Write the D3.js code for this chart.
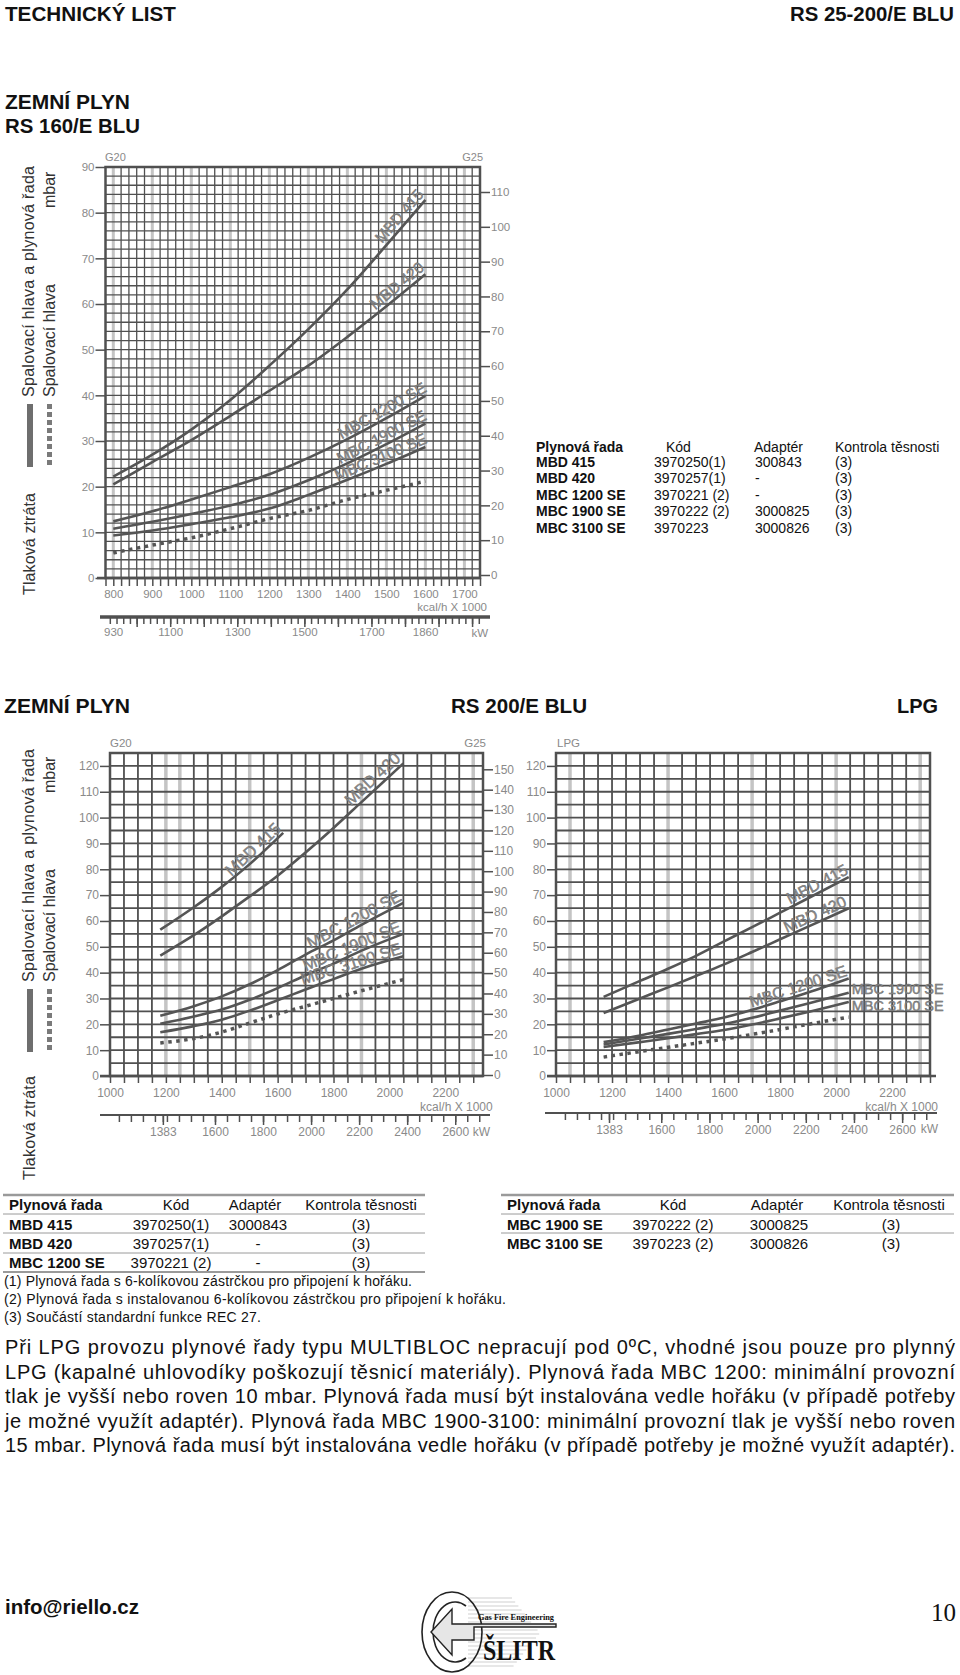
<!DOCTYPE html>
<html><head><meta charset="utf-8">
<script src="https://cdn.jsdelivr.net/npm/d3@7"></script>
<style>
body{margin:0;background:#fff;}
svg{display:block;}
</style></head><body>
<script>
// ================= DATA =================
// Top chart: RS 160/E BLU, natural gas (flow in kcal/h x 1000, pressure in mbar)
const topFlow    = [800, 900, 1000, 1100, 1200, 1300, 1400, 1500, 1600];
const topMBD415  = [22.2, 27.0, 32.5, 39.0, 46.5, 54.5, 63.2, 72.9, 82.8];
const topMBD420  = [20.5, 25.4, 30.2, 35.5, 41.0, 46.5, 52.8, 59.5, 66.5];
const topMBC1200 = [12.4, 14.6, 17.2, 19.9, 22.7, 26.3, 30.4, 35.0, 39.9];
const topMBC1900 = [10.8, 12.3, 14.0, 15.9, 18.2, 21.4, 25.1, 29.3, 33.8];
const topMBC3100 = [9.3, 10.4, 11.8, 13.3, 15.2, 18.2, 21.5, 25.0, 28.7];
const topHead    = [5.5, 7.2, 8.8, 10.8, 13.0, 14.8, 17.2, 19.2, 21.2];
const topYTicks  = [0, 10, 20, 30, 40, 50, 60, 70, 80, 90];
const topG25Ticks = [0, 10, 20, 30, 40, 50, 60, 70, 80, 90, 100, 110];
const topKcalLabels = [800, 900, 1000, 1100, 1200, 1300, 1400, 1500, 1600, 1700];
const topKwLabels = [930, 1100, 1300, 1500, 1700, 1860];
const topGreyLines = [800, 900, 1000, 1100, 1200, 1300, 1400, 1500, 1600, 1700];

// Middle left: RS 200/E BLU, natural gas
const ngFlow415  = [1180, 1300, 1400, 1500, 1620];
const ngMBD415   = [56.6, 65.3, 73.2, 82.0, 94.1];
const ngFlow     = [1180, 1300, 1400, 1500, 1600, 1700, 1800, 1900, 2050];
const ngMBD420   = [46.6, 54.5, 61.8, 69.5, 77.5, 86.5, 96.0, 106.0, 121.0];
const ngMBC1200  = [23.3, 27.0, 30.8, 35.5, 41.0, 47.0, 52.5, 58.5, 67.0];
const ngMBC1900  = [20.2, 23.0, 25.7, 29.5, 34.0, 39.0, 43.5, 48.5, 55.0];
const ngMBC3100  = [16.9, 19.3, 21.8, 25.3, 29.3, 33.5, 37.5, 41.5, 46.3];
const ngHead     = [12.8, 14.5, 17.0, 20.5, 24.0, 27.0, 30.0, 33.0, 37.3];
const ngGreyLines = [1200, 1250, 1500, 1900, 2300];

// Middle right: RS 200/E BLU, LPG
const lpgFlow    = [1170, 1300, 1400, 1500, 1600, 1700, 1800, 1900, 2045];
const lpgMBD415  = [30.6, 36.8, 41.5, 46.5, 52.1, 57.6, 63.2, 68.8, 77.0];
const lpgMBD420  = [24.4, 30.0, 34.3, 38.7, 43.2, 48.0, 52.9, 57.8, 64.9];
const lpgMBC1200 = [13.1, 15.7, 18.0, 20.3, 22.6, 25.6, 28.9, 32.3, 37.7];
const lpgMBC1900 = [12.2, 14.5, 16.3, 18.2, 20.1, 22.5, 25.3, 28.1, 32.2];
const lpgMBC3100 = [11.2, 13.1, 14.6, 16.2, 17.8, 19.9, 22.3, 24.8, 28.7];
const lpgHead    = [7.3, 9.5, 11.1, 12.7, 14.3, 16.1, 18.0, 20.0, 22.8];
const lpgGreyLines = [1050, 1400, 1700, 2000, 2300];

const midYTicks = [0, 10, 20, 30, 40, 50, 60, 70, 80, 90, 100, 110, 120];
const midG25Ticks = [0, 10, 20, 30, 40, 50, 60, 70, 80, 90, 100, 110, 120, 130, 140, 150];
const midKcalLabels = [1000, 1200, 1400, 1600, 1800, 2000, 2200];
const midKwLabels = [1383, 1600, 1800, 2000, 2200, 2400, 2600];

// Tables
const t1Valves   = ["MBD 415", "MBD 420", "MBC 1200 SE", "MBC 1900 SE", "MBC 3100 SE"];
const t1Codes    = ["3970250(1)", "3970257(1)", "3970221 (2)", "3970222 (2)", "3970223"];
const t1Adapters = ["300843", "-", "-", "3000825", "3000826"];
const t1Checks   = ["(3)", "(3)", "(3)", "(3)", "(3)"];
const t2Valves   = ["MBD 415", "MBD 420", "MBC 1200 SE"];
const t2Codes    = ["3970250(1)", "3970257(1)", "3970221 (2)"];
const t2Adapters = ["3000843", "-", "-"];
const t3Valves   = ["MBC 1900 SE", "MBC 3100 SE"];
const t3Codes    = ["3970222 (2)", "3970223 (2)"];
const t3Adapters = ["3000825", "3000826"];
const tHeaders   = ["Plynová řada", "Kód", "Adaptér", "Kontrola těsnosti"];
const footnotes  = [
  "(1) Plynová řada s 6-kolíkovou zástrčkou pro připojení k hořáku.",
  "(2) Plynová řada s instalovanou 6-kolíkovou zástrčkou pro připojení k hořáku.",
  "(3) Součástí standardní funkce REC 27."
];
const paragraph = [
  "Při LPG provozu plynové řady typu MULTIBLOC nepracují pod 0ºC, vhodné jsou pouze pro plynný",
  "LPG (kapalné uhlovodíky poškozují těsnicí materiály). Plynová řada MBC 1200: minimální provozní",
  "tlak je vyšší nebo roven 10 mbar. Plynová řada musí být instalována vedle hořáku (v případě potřeby",
  "je možné využít adaptér). Plynová řada MBC 1900-3100: minimální provozní tlak je vyšší nebo roven",
  "15 mbar. Plynová řada musí být instalována vedle hořáku (v případě potřeby je možné využít adaptér)."
];

// ================= DRAWING =================
const W = 960, H = 1675, KW = 1.163;
const C = "#505050", LBL = "#8a8a8a";
const F = '"Liberation Sans", Arial, Helvetica, sans-serif';
const svg = d3.select("body").append("svg").attr("width", W).attr("height", H);
svg.append("rect").attr("width", W).attr("height", H).attr("fill", "#fff");

function T(p, s, x, y, o = {}) {
  const t = p.append("text").attr("x", x).attr("y", y).text(s)
    .attr("font-family", o.family || F).attr("font-size", o.size || 14)
    .attr("font-weight", o.weight || "normal").attr("fill", o.fill || "#111")
    .attr("text-anchor", o.anchor || "start");
  if (o.len) t.attr("textLength", o.len).attr("lengthAdjust", o.adjust || "spacingAndGlyphs");
  return t;
}
function TR(p, s, x, y, o = {}) {
  const g = p.append("g").attr("transform", `translate(${x},${y}) rotate(-90)`);
  return T(g, s, 0, 0, o);
}
function st(a, fs) {
  a.select(".domain").remove();
  a.attr("font-family", null).attr("font-size", null);
  a.selectAll("line").attr("stroke", C).attr("stroke-width", 1.5);
  a.selectAll("text").attr("fill", LBL).attr("font-size", fs).attr("font-family", F);
}

function drawChart(o) {
  const g = svg.append("g");
  const x = o.x, y = o.y;
  const [xa, xb] = x.domain(), [ya, yb] = y.domain();
  const top = y(yb), bot = y(ya), left = x(xa), right = x(xb);
  g.selectAll(null).data(o.greyX).join("line")
    .attr("x1", d => x(d)).attr("x2", d => x(d)).attr("y1", top).attr("y2", bot)
    .attr("stroke", "#c4c4c4").attr("stroke-width", o.greyW);
  g.selectAll(null).data(o.gridX.filter(v => !o.greyX.includes(v))).join("line")
    .attr("x1", d => x(d)).attr("x2", d => x(d)).attr("y1", top).attr("y2", bot)
    .attr("stroke", C).attr("stroke-width", o.gridW);
  g.selectAll(null).data(o.gridY).join("line")
    .attr("x1", left).attr("x2", right).attr("y1", d => y(d)).attr("y2", d => y(d))
    .attr("stroke", C).attr("stroke-width", o.gridW);
  g.append("rect").attr("x", left).attr("y", top).attr("width", right - left).attr("height", bot - top)
    .attr("fill", "none").attr("stroke", C).attr("stroke-width", o.frameW);
  g.append("line").attr("x1", o.axisX0).attr("x2", o.axisX1).attr("y1", bot).attr("y2", bot)
    .attr("stroke", C).attr("stroke-width", o.frameW);
  const la = g.append("g").attr("transform", `translate(${left},0)`)
    .call(d3.axisLeft(y).tickValues(o.yTicks).tickSize(o.yTick).tickPadding(1));
  st(la, o.fs);
  const ba = g.append("g").attr("transform", `translate(0,${bot})`)
    .call(d3.axisBottom(x).tickValues(o.xTicks).tickSize(o.xTick).tickPadding(o.xPad)
      .tickFormat(d => o.xLabels.includes(d) ? d : ""));
  st(ba, o.fs);
  if (o.yR) {
    const ra = g.append("g").attr("transform", `translate(${right},0)`)
      .call(d3.axisRight(o.yR).tickValues(o.yRTicks).tickSize(10).tickPadding(1));
    st(ra, o.fs);
  }
  const kw = d3.scaleLinear().domain([xa * KW, xb * KW]).range([left, right]);
  g.append("line").attr("x1", o.kwX0).attr("x2", o.kwX1).attr("y1", o.kwY).attr("y2", o.kwY)
    .attr("stroke", C).attr("stroke-width", o.kwW);
  const k1 = g.append("g").attr("transform", `translate(0,${o.kwY})`)
    .call(d3.axisBottom(kw).tickValues(o.kwTicks).tickSize(7).tickFormat(""));
  st(k1, o.fs);
  const k2 = g.append("g").attr("transform", `translate(0,${o.kwY})`)
    .call(d3.axisBottom(kw).tickValues(o.kwMajor).tickSize(10).tickFormat(""));
  st(k2, o.fs);
  const k3 = g.append("g").attr("transform", `translate(0,${o.kwY})`)
    .call(d3.axisBottom(kw).tickValues(o.kwLabels).tickSize(0).tickPadding(o.kwPad).tickFormat(d3.format("d")));
  st(k3, o.fs);
  k3.selectAll("line").remove();
  T(g, "kW", o.kwUnitX, o.kwUnitY, { size: o.fs, fill: LBL, anchor: "end" });
  T(g, "kcal/h X 1000", o.kcalX, o.kcalY, { size: o.fs, fill: LBL, anchor: o.kcalAnchor });
  o.topLabels.forEach(t => T(g, t.s, t.x, top - 6, { size: o.fs - 0.5, fill: LBL, anchor: t.a }));

  const line = d3.line().x(d => x(d[0])).y(d => y(d[1])).curve(d3.curveMonotoneX);
  o.series.forEach(s => {
    const pts = s.flow.map((f, i) => [f, s.vals[i]]);
    g.append("path").attr("d", line(pts)).attr("fill", "none").attr("stroke", "#555")
      .attr("stroke-width", s.dash ? 3.5 : 2.6).attr("stroke-dasharray", s.dash ? "3.5,4.5" : null);
    if (!s.label) return;
    const f = d3.scaleLinear().domain(s.flow).range(s.vals);
    const at = s.flow[s.flow.length - 1];
    const p2 = [x(at), y(f(at))];
    if (s.horiz) {
      T(g, s.label, p2[0] + 3, p2[1] + s.dy, { size: o.hSize, fill: "#8c8c8c" })
        .attr("stroke", "#666").attr("stroke-width", 0.4);
      return;
    }
    const back = at - s.span;
    const p1 = [x(back), y(f(back))];
    const th = Math.atan2(p2[1] - p1[1], p2[0] - p1[0]);
    const off = s.off, sh = s.shift || 0;
    const px = p2[0] + Math.sin(th) * off + Math.cos(th) * sh;
    const py = p2[1] - Math.cos(th) * off + Math.sin(th) * sh;
    g.append("text").attr("transform", `translate(${px},${py}) rotate(${th * 180 / Math.PI})`)
      .attr("text-anchor", "end").attr("font-size", o.lblSize).attr("font-family", F)
      .attr("fill", "#8c8c8c").attr("stroke", "#666").attr("stroke-width", 0.4).text(s.label);
  });
  return g;
}

function legend(y0, yTop, yTlak, lenMain, lenTlak) {
  const s = { size: 16, fill: "#333" };
  TR(svg, "Spalovací hlava a plynová řada", 34, y0, { ...s, len: lenMain, adjust: "spacing" });
  TR(svg, "mbar", 55, yTop, { ...s });
  TR(svg, "Spalovací hlava", 55, y0, { ...s });
  TR(svg, "Tlaková ztráta", 35, yTlak, { ...s, len: lenTlak, adjust: "spacing" });
  svg.append("rect").attr("x", 27).attr("y", y0 + 7).attr("width", 6).attr("height", 63).attr("fill", "#6e6e6e");
  svg.append("line").attr("x1", 49.5).attr("x2", 49.5).attr("y1", y0 + 7).attr("y2", y0 + 70)
    .attr("stroke", "#7a7a7a").attr("stroke-width", 5).attr("stroke-dasharray", "5,3");
}

// ---------- header ----------
T(svg, "TECHNICKÝ LIST", 5, 21, { size: 21, weight: "bold", len: 171 });
T(svg, "RS 25-200/E BLU", 790, 21, { size: 21, weight: "bold", len: 164 });
T(svg, "ZEMNÍ PLYN", 5, 108.5, { size: 21, weight: "bold", len: 125 });
T(svg, "RS 160/E BLU", 5, 133, { size: 21, weight: "bold", len: 135 });

// ---------- top chart ----------
const topX = d3.scaleLinear().domain([780, 1740]).range([105.5, 480]);
const topY = d3.scaleLinear().domain([0, 90]).range([578, 167]);
drawChart({
  x: topX, y: topY,
  yR: d3.scaleLinear().domain([0, 110]).range([575, 192]), yRTicks: topG25Ticks,
  gridX: d3.range(800, 1740, 20), greyX: topGreyLines, gridY: d3.range(2, 90, 2),
  gridW: 1.3, greyW: 3, frameW: 2.5, axisX0: 97, axisX1: 480,
  yTicks: topYTicks, yTick: 10, xTicks: d3.range(780, 1741, 20), xTick: 8, xPad: 4, xLabels: topKcalLabels,
  fs: 11.5,
  kwY: 617, kwX0: 100, kwX1: 490, kwW: 3.5, kwTicks: d3.range(920, 2021, 20), kwMajor: d3.range(1000, 2001, 100),
  kwLabels: topKwLabels, kwPad: 11, kwUnitX: 488, kwUnitY: 637,
  kcalX: 487, kcalY: 611, kcalAnchor: "end",
  topLabels: [{ s: "G20", x: 105, a: "start" }, { s: "G25", x: 483, a: "end" }],
  lblSize: 15.5,
  series: [
    { flow: topFlow, vals: topMBD415, label: "MBD 415", span: 80, off: 4, shift: 3 },
    { flow: topFlow, vals: topMBD420, label: "MBD 420", span: 80, off: 4, shift: 3 },
    { flow: topFlow, vals: topMBC1200, label: "MBC 1200 SE", span: 150, off: 3, shift: 4 },
    { flow: topFlow, vals: topMBC1900, label: "MBC 1900 SE", span: 150, off: 3, shift: 4 },
    { flow: topFlow, vals: topMBC3100, label: "MBC 3100 SE", span: 150, off: 3, shift: 4 },
    { flow: topFlow, vals: topHead, dash: true }
  ]
});
legend(397, 208, 595, 231, 102);

// top-right table
(function () {
  const g = svg.append("g");
  const cols = [536, 654, 755, 835];
  T(g, tHeaders[0], cols[0], 451.5, { size: 14, weight: "bold" });
  T(g, tHeaders[1], 666, 451.5, { size: 14 });
  T(g, tHeaders[2], 754, 451.5, { size: 14 });
  T(g, tHeaders[3], cols[3], 451.5, { size: 14 });
  t1Valves.forEach((v, i) => {
    const yy = 466.5 + i * 16.6;
    T(g, v, cols[0], yy, { size: 14, weight: "bold" });
    T(g, t1Codes[i], cols[1], yy, { size: 14 });
    T(g, t1Adapters[i], cols[2], yy, { size: 14 });
    T(g, t1Checks[i], cols[3], yy, { size: 14 });
  });
})();

// ---------- middle section ----------
T(svg, "ZEMNÍ PLYN", 4, 713, { size: 21, weight: "bold", len: 126 });
T(svg, "RS 200/E BLU", 451, 713, { size: 21, weight: "bold", len: 136 });
T(svg, "LPG", 897, 713, { size: 21, weight: "bold", len: 41 });

const midY = d3.scaleLinear().domain([0, 125]).range([1076, 753]);
const ngX = d3.scaleLinear().domain([1000, 2335]).range([110, 483]);
drawChart({
  x: ngX, y: midY,
  yR: d3.scaleLinear().domain([0, 150]).range([1075, 769.3]), yRTicks: midG25Ticks,
  gridX: d3.range(1050, 2335, 50), greyX: ngGreyLines, gridY: d3.range(5, 125, 5),
  gridW: 1.8, greyW: 3.5, frameW: 2.5, axisX0: 100, axisX1: 483,
  yTicks: midYTicks, yTick: 10, xTicks: d3.range(1000, 2335, 50), xTick: 7, xPad: 5, xLabels: midKcalLabels,
  fs: 12,
  kwY: 1115, kwX0: 100, kwX1: 490, kwW: 2, kwTicks: d3.range(1200, 2701, 50).concat([1383]), kwMajor: [1383, 1600, 1800, 2000, 2200, 2400, 2600],
  kwLabels: midKwLabels, kwPad: 12, kwUnitX: 490, kwUnitY: 1135.5,
  kcalX: 420, kcalY: 1111, kcalAnchor: "start",
  topLabels: [{ s: "G20", x: 110, a: "start" }, { s: "G25", x: 486, a: "end" }],
  lblSize: 16.5,
  series: [
    { flow: ngFlow415, vals: ngMBD415, label: "MBD 415", span: 100, off: 3, shift: 1 },
    { flow: ngFlow, vals: ngMBD420, label: "MBD 420", span: 120, off: 4, shift: 1 },
    { flow: ngFlow, vals: ngMBC1200, label: "MBC 1200 SE", span: 200, off: 3, shift: 1 },
    { flow: ngFlow, vals: ngMBC1900, label: "MBC 1900 SE", span: 200, off: 3, shift: 0 },
    { flow: ngFlow, vals: ngMBC3100, label: "MBC 3100 SE", span: 200, off: 3, shift: 0 },
    { flow: ngFlow, vals: ngHead, dash: true }
  ]
});

const lpgX = d3.scaleLinear().domain([1000, 2335]).range([556, 930]);
drawChart({
  x: lpgX, y: midY,
  gridX: d3.range(1050, 2335, 50), greyX: lpgGreyLines, gridY: d3.range(5, 125, 5),
  gridW: 1.8, greyW: 3.5, frameW: 2.5, axisX0: 547, axisX1: 936,
  yTicks: midYTicks, yTick: 9, xTicks: d3.range(1000, 2335, 50).concat([2335]), xTick: 7, xPad: 5, xLabels: midKcalLabels,
  fs: 12,
  kwY: 1113, kwX0: 545, kwX1: 937, kwW: 2, kwTicks: d3.range(1200, 2701, 50).concat([1383]), kwMajor: [1383, 1600, 1800, 2000, 2200, 2400, 2600],
  kwLabels: midKwLabels, kwPad: 12, kwUnitX: 938, kwUnitY: 1133,
  kcalX: 938, kcalY: 1111, kcalAnchor: "end",
  topLabels: [{ s: "LPG", x: 557, a: "start" }],
  lblSize: 16, hSize: 14.5,
  series: [
    { flow: lpgFlow, vals: lpgMBD415, label: "MBD 415", span: 150, off: 3, shift: 2 },
    { flow: lpgFlow, vals: lpgMBD420, label: "MBD 420", span: 150, off: 3, shift: 0 },
    { flow: lpgFlow, vals: lpgMBC1200, label: "MBC 1200 SE", span: 250, off: 3, shift: 0 },
    { flow: lpgFlow, vals: lpgMBC1900, label: "MBC 1900 SE", horiz: true, dy: 1.5 },
    { flow: lpgFlow, vals: lpgMBC3100, label: "MBC 3100 SE", horiz: true, dy: 9.5 },
    { flow: lpgFlow, vals: lpgHead, dash: true }
  ]
});
legend(982, 793, 1180, 233, 104);

// ---------- bottom tables ----------
function rule(x1, x2, y, w) {
  svg.append("line").attr("x1", x1).attr("x2", x2).attr("y1", y).attr("y2", y)
    .attr("stroke", "#9a9a9a").attr("stroke-width", w);
}
(function () {
  const fs = 15;
  rule(3, 425, 1195, 2.5); rule(3, 425, 1214, 1); rule(3, 425, 1233, 1); rule(3, 425, 1253, 1); rule(3, 425, 1272, 2);
  T(svg, tHeaders[0], 9, 1210, { size: fs, weight: "bold" });
  T(svg, tHeaders[1], 176, 1210, { size: fs, anchor: "middle" });
  T(svg, tHeaders[2], 255, 1210, { size: fs, anchor: "middle" });
  T(svg, tHeaders[3], 361, 1210, { size: fs, anchor: "middle" });
  t2Valves.forEach((v, i) => {
    const yy = 1229.5 + i * 19;
    T(svg, v, 9, yy, { size: fs, weight: "bold" });
    T(svg, t2Codes[i], 171, yy, { size: fs, anchor: "middle" });
    T(svg, t2Adapters[i], 258, yy, { size: fs, anchor: "middle" });
    T(svg, "(3)", 361, yy, { size: fs, anchor: "middle" });
  });
  rule(501, 954, 1195, 2.5); rule(501, 954, 1214, 1); rule(501, 954, 1233, 1);
  T(svg, tHeaders[0], 507, 1210, { size: fs, weight: "bold" });
  T(svg, tHeaders[1], 673, 1210, { size: fs, anchor: "middle" });
  T(svg, tHeaders[2], 777, 1210, { size: fs, anchor: "middle" });
  T(svg, tHeaders[3], 889, 1210, { size: fs, anchor: "middle" });
  t3Valves.forEach((v, i) => {
    const yy = 1229.5 + i * 19;
    T(svg, v, 507, yy, { size: fs, weight: "bold" });
    T(svg, t3Codes[i], 673, yy, { size: fs, anchor: "middle" });
    T(svg, t3Adapters[i], 779, yy, { size: fs, anchor: "middle" });
    T(svg, "(3)", 891, yy, { size: fs, anchor: "middle" });
  });
  const fl = [408, 502, 257];
  footnotes.forEach((s, i) => T(svg, s, 4, 1285.5 + i * 18, { size: 14, len: fl[i], adjust: "spacing" }));
  paragraph.forEach((s, i) => T(svg, s, 5, 1354 + i * 24.5, { size: 20, len: 950, adjust: "spacing" }));
})();

// ---------- footer ----------
T(svg, "info@riello.cz", 5, 1614, { size: 20, weight: "bold", len: 134 });
T(svg, "10", 956, 1621, { size: 25, anchor: "end", family: '"Liberation Serif", "Times New Roman", serif' });
(function () {
  const g = svg.append("g");
  d3.range(1598, 1670, 4).forEach(yy => g.append("line").attr("x1", 468).attr("x2", 540 - Math.abs(yy - 1633) * 0.8)
    .attr("y1", yy).attr("y2", yy).attr("stroke", "#cfcfcf").attr("stroke-width", 1));
  g.append("ellipse").attr("cx", 452).attr("cy", 1632).attr("rx", 30).attr("ry", 40)
    .attr("fill", "none").attr("stroke", "#222").attr("stroke-width", 1.6);
  g.append("path").attr("d", "M466,1606 A22,30 0 1 0 466,1658")
    .attr("fill", "none").attr("stroke", "#222").attr("stroke-width", 1.6);
  g.append("path").attr("d", "M431,1632 L452,1609 L452,1624 L556,1624 L556,1627 L474,1627 L474,1640 L452,1640 L452,1655 Z")
    .attr("fill", "#e6e6e6").attr("stroke", "#222").attr("stroke-width", 1.4);
  T(g, "Gas Fire Engineering", 478, 1620, { size: 9, weight: "bold", family: '"Liberation Serif", serif', len: 76 });
  T(g, "ŠLITR", 483, 1660, { size: 30, weight: "bold", family: '"Liberation Serif", serif', len: 72 });
})();
</script>
</body></html>
